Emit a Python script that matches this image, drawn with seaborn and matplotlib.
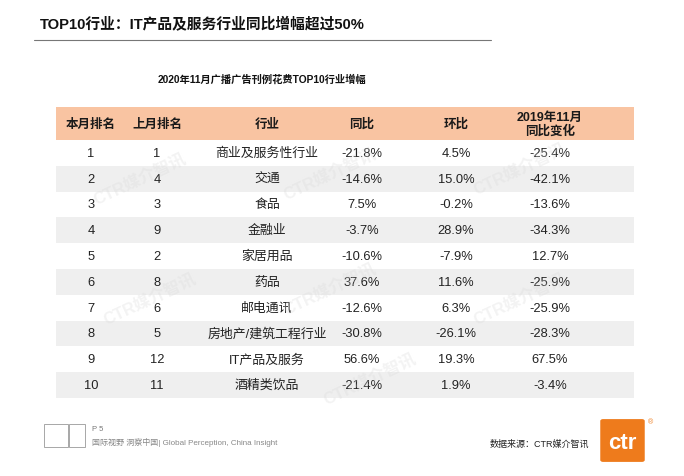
import numpy as np
import seaborn as sns
import matplotlib
matplotlib.use('Agg')
import matplotlib.pyplot as plt
from matplotlib.colors import ListedColormap
from matplotlib.patches import Rectangle, FancyBboxPatch

# table data
rank_now = ['1', '2', '3', '4', '5', '6', '7', '8', '9', '10']
rank_prev = ['1', '4', '3', '9', '2', '8', '6', '5', '12', '11']
industry = ['商业及服务性行业', '交通', '食品', '金融业', '家居用品',
            '药品', '邮电通讯', '房地产/建筑工程行业', 'IT产品及服务', '酒精类饮品']
yoy = [-21.8, -14.6, 7.5, -3.7, -10.6, 37.6, -12.6, -30.8, 56.6, -21.4]
mom = [4.5, 15.0, -0.2, 28.9, -7.9, 11.6, 6.3, -26.1, 19.3, 1.9]
yoy_2019 = [-25.4, -42.1, -13.6, -34.3, 12.7, -25.9, -25.9, -28.3, 67.5, -3.4]
headers = ['本月排名', '上月排名', '行业', '同比', '环比', '2019年11月\n同比变化']

sns.set_theme(style='white')
plt.rcParams['font.family'] = ['Liberation Sans', 'Noto Sans CJK SC', 'DejaVu Sans']

W, H = 684, 477
fig = plt.figure(figsize=(W / 100, H / 100), dpi=100)

def fx(px):
    return px / W

def fy(py):
    return 1 - py / H

# table geometry (pixels)
tl, tr = 56, 634
head_top, body_top, body_bot = 108, 141, 399
col_x = [91, 157, 267, 362, 456, 550]

# title + rule
fig.text(fx(40), fy(25), 'TOP10行业：IT产品及服务行业同比增幅超过50%',
         fontsize=10.6, fontweight='bold', color='#111111', va='center')
fig.add_artist(plt.Line2D([fx(34), fx(491)], [fy(41), fy(41)], color='#777777', lw=0.8))
fig.text(fx(262), fy(80), '2020年11月广播广告刊例花费TOP10行业增幅',
         fontsize=7.4, fontweight='bold', color='#111111', ha='center', va='center')

# header band
fig.add_artist(Rectangle((fx(tl), fy(body_top)), fx(tr - tl), fy(head_top) - fy(body_top),
                         transform=fig.transFigure, color='#f9c4a2', lw=0))
for x, h in zip(col_x, headers):
    fig.text(fx(x), fy((head_top + body_top) / 2), h, fontsize=9, fontweight='bold',
             color='#1a1a1a', ha='center', va='center', linespacing=1.1)

# striped body drawn as a one-column heatmap
ax = fig.add_axes([fx(tl), fy(body_bot), fx(tr - tl), fy(body_top) - fy(body_bot)])
stripes = np.array([[i % 2] for i in range(len(rank_now))])
sns.heatmap(stripes, ax=ax, cmap=ListedColormap(['#ffffff', '#efefef']), cbar=False,
            xticklabels=False, yticklabels=False, linewidths=0)

def pct(v):
    return f'{v:.1f}%'

for i in range(len(rank_now)):
    row = [rank_now[i], rank_prev[i], industry[i], pct(yoy[i]), pct(mom[i]), pct(yoy_2019[i])]
    for x, s in zip(col_x, row):
        ax.text((x - tl) / (tr - tl), i + 0.5, s, fontsize=9.3, color='#222222',
                ha='center', va='center')

# faint watermarks
for wx, wy in [(140, 180), (330, 175), (520, 170), (150, 300), (330, 290), (520, 300), (370, 380)]:
    fig.text(fx(wx), fy(wy), 'CTR媒介智讯', fontsize=12, fontweight='bold', color='#d8d8d8',
             alpha=0.3, rotation=25, ha='center', va='center')

# footer
fig.add_artist(Rectangle((fx(44), fy(448)), fx(24), fy(425) - fy(448),
                         transform=fig.transFigure, fill=False, ec='#999999', lw=0.6))
fig.add_artist(Rectangle((fx(69), fy(448)), fx(16), fy(425) - fy(448),
                         transform=fig.transFigure, fill=False, ec='#999999', lw=0.6))
fig.text(fx(92), fy(430), 'P 5', fontsize=5.5, color='#777777', va='center')
fig.text(fx(92), fy(443), '国际视野 洞察中国| Global Perception, China Insight',
         fontsize=5.8, color='#888888', va='center')
fig.text(fx(490), fy(444), '数据来源：CTR媒介智讯', fontsize=6.5, color='#222222', va='center')
fig.add_artist(FancyBboxPatch((fx(603), fy(461)), fx(39), fy(422) - fy(461),
                              boxstyle='round,pad=0.004', transform=fig.transFigure,
                              color='#ee7b1c', lw=0))
fig.text(fx(622), fy(444), 'ctr', fontsize=16, fontweight='bold', color='white',
         ha='center', va='center')
fig.text(fx(650), fy(423), '®', fontsize=5, color='#ee7b1c', ha='center', va='center')

fig.savefig('out.png', dpi=100)
